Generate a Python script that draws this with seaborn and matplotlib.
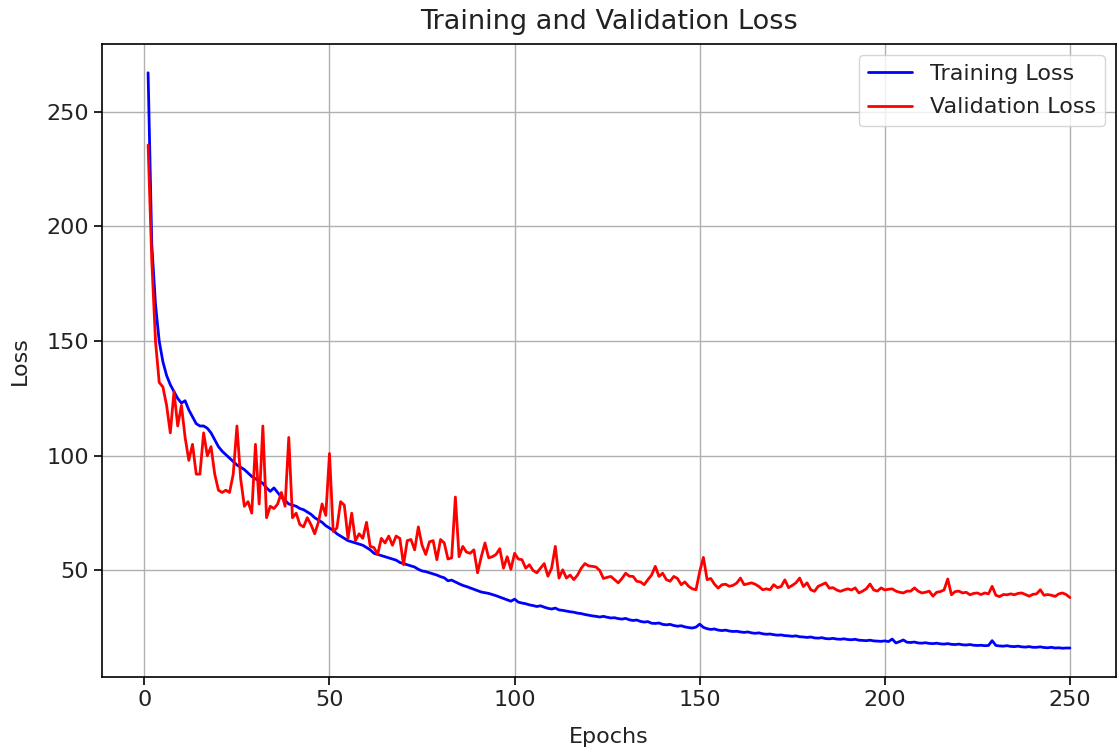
import numpy as np
import pandas as pd
import matplotlib
matplotlib.use("Agg")
import matplotlib.pyplot as plt
import seaborn as sns

# ---- data ----
train_loss = [
    267, 192, 166, 150, 141, 135, 131, 128, 125, 123,
    124, 120, 117, 114, 113, 113, 112, 110, 107, 104,
    102, 100.5, 99, 97.5, 96, 95, 94, 92.5, 91, 90,
    89, 88, 86, 84.5, 86, 84, 82, 80.5, 79, 78.5,
    78, 77, 76.5, 75.5, 74.5, 73, 72, 71, 69.5, 68.5,
    67.5, 66, 65, 64, 63, 62.5, 62, 61.5, 61, 60,
    59, 57.5, 57, 56.5, 56, 55.5, 55, 54.5, 53.5, 53,
    52.5, 52, 51.5, 50.5, 49.8, 49.5, 49, 48.5, 48, 47.3,
    46.8, 45.5, 45.8, 45, 44.2, 43.5, 43, 42.4, 41.8, 41.2,
    40.6, 40.3, 40, 39.5, 39, 38.4, 37.8, 37.2, 36.6, 37.5,
    36.2, 35.8, 35.5, 35, 34.7, 34.3, 34.6, 34, 33.5, 33.2,
    33.6, 32.8, 32.6, 32.3, 32, 31.8, 31.4, 31.2, 30.8, 30.5,
    30.2, 30, 29.7, 30, 29.6, 29.3, 29.4, 29, 28.8, 29.1,
    28.5, 28.2, 28.4, 27.8, 27.5, 27.7, 27, 26.9, 27.1, 26.5,
    26.3, 26.5, 26, 25.7, 25.9, 25.4, 25.1, 24.9, 25.3, 26.6,
    25.2, 24.6, 24.3, 24.5, 24, 23.8, 24, 23.6, 23.4, 23.5,
    23.2, 23, 23.2, 22.8, 22.6, 22.8, 22.4, 22.2, 22.3, 22,
    21.8, 21.9, 21.6, 21.5, 21.3, 21.5, 21.1, 21, 20.8, 21,
    20.6, 20.5, 20.7, 20.3, 20.2, 20.4, 20.1, 20, 20.2, 19.9,
    19.8, 20, 19.6, 19.5, 19.4, 19.6, 19.3, 19.2, 19.1, 19.3,
    19, 20.1, 18.4, 19, 19.7, 18.7, 18.6, 18.8, 18.4, 18.3,
    18.5, 18.2, 18.1, 18.3, 18, 17.9, 18.1, 17.8, 17.7, 17.9,
    17.6, 17.5, 17.7, 17.4, 17.3, 17.4, 17.2, 17.3, 19.4, 17.3,
    17.1, 17, 17.2, 16.9, 16.8, 17, 16.7, 16.6, 16.8, 16.5,
    16.5, 16.7, 16.4, 16.3, 16.5, 16.2, 16.3, 16.1, 16.2, 16.2,
]

val_loss = [
    235.5, 185, 150, 132, 130, 122, 110, 128, 113, 122,
    108, 98, 105, 92, 92, 110, 100, 104, 92, 85,
    84, 85, 84, 92, 113, 90, 78, 80, 75, 105,
    79, 113, 73, 78, 77, 79, 84, 78, 108, 73,
    75, 70, 69, 73, 70, 66, 71, 79, 74, 101,
    67, 68.5, 80, 78.5, 64, 75, 63, 66, 64, 71,
    60.5, 60, 57, 64, 62, 65, 61, 65, 64, 52.5,
    63, 63.5, 59, 69, 61, 57, 62.5, 63, 54.7, 63.5,
    62, 55, 55.5, 82, 56, 60.5, 58, 57.5, 59, 49,
    56, 62, 55.5, 56, 57, 59.5, 51, 56, 50.5, 57.5,
    55, 54.7, 51, 52.5, 50, 49, 51, 53, 47.5, 51,
    60.5, 46.7, 50.3, 46.7, 48, 46, 48, 51, 53, 52,
    51.8, 51.5, 50, 46.5, 47, 47.4, 46, 44.6, 46.5, 48.8,
    47.5, 47.4, 45.3, 45, 43.8, 46, 48, 51.8, 47.4, 48.8,
    46, 45.3, 47.4, 46.5, 43.8, 45, 43.1, 42, 41.6, 49.5,
    55.7, 46, 46.5, 44, 42.3, 43.8, 44, 43.1, 43.5, 44.5,
    46.7, 43.8, 44.2, 44.6, 44, 43, 41.6, 42, 41.6, 43.8,
    42.5, 43, 45.9, 42.5, 43.5, 44.6, 46.7, 43, 44.6, 41.6,
    40.9, 43.1, 43.8, 44.6, 42.3, 42.5, 41.5, 40.9, 41.5, 42,
    41.5, 42.4, 40.2, 41, 42, 44.1, 41.5, 41, 42.4, 41.5,
    41.8, 42, 41, 40.5, 40.2, 41, 41, 42.4, 41, 40.2,
    40.5, 41, 38.8, 40.5, 40.8, 41.5, 46.3, 39.4, 40.8, 41,
    40.2, 40.5, 39.4, 40, 40.2, 39.5, 40.2, 39.8, 43.1, 39.2,
    38.6, 39.5, 39.4, 39.8, 39.4, 40, 40.2, 39.5, 38.8, 39.6,
    39.8, 41.6, 39.2, 39.5, 39.2, 38.7, 39.8, 40.2, 39.5, 38.2,
]

epochs = list(range(1, len(train_loss) + 1))

series_names = ["Training Loss", "Validation Loss"]
series_colors = ["blue", "red"]
title = "Training and Validation Loss"
x_label = "Epochs"
y_label = "Loss"
x_ticks = [0, 50, 100, 150, 200, 250]
y_ticks = [50, 100, 150, 200, 250]

df = pd.DataFrame({
    "Epochs": epochs * 2,
    "Loss": train_loss + val_loss,
    "Series": [series_names[0]] * len(train_loss) + [series_names[1]] * len(val_loss),
})

sns.set_style("white")
plt.rcParams["font.family"] = ["DejaVu Sans"]

fig = plt.figure(figsize=(11.19, 7.56), dpi=100)
ax = fig.add_axes([102 / 1119, 1 - 677 / 756, (1116 - 102) / 1119, (677 - 44) / 756])

sns.lineplot(data=df, x="Epochs", y="Loss", hue="Series",
             palette=dict(zip(series_names, series_colors)),
             linewidth=2.0, ax=ax)

ax.grid(True, color="#b0b0b0", linewidth=1.0)
for s in ax.spines.values():
    s.set_color("black")
    s.set_linewidth(1.2)
ax.tick_params(axis="both", direction="out", length=6, width=1.2, labelsize=16,
               bottom=True, left=True, colors="black", labelcolor="#222222")
ax.set_title(title, fontsize=19.5, pad=11, color="#222222")
ax.set_xlabel(x_label, fontsize=16, color="#222222", labelpad=12)
ax.set_ylabel(y_label, fontsize=16, color="#222222", labelpad=12)
ax.set_xticks(x_ticks)
ax.set_yticks(y_ticks)

leg = ax.legend(loc="upper right", fontsize=16, frameon=True, labelspacing=0.6)
leg.set_title(None)
for t in leg.get_texts():
    t.set_color("#222222")

fig.savefig("out.png", dpi=100)
